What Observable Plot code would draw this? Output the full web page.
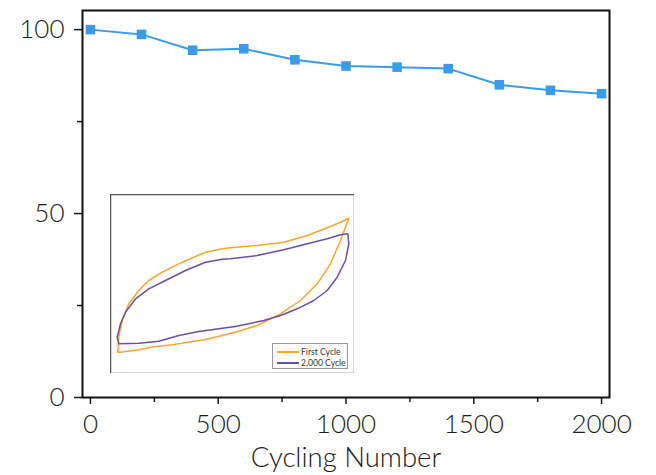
<!DOCTYPE html>
<html><head><meta charset="utf-8">
<script src="https://cdn.jsdelivr.net/npm/d3@7"></script>
<script src="https://cdn.jsdelivr.net/npm/@observablehq/plot@0.6"></script>
<style>
body{margin:0;background:#fff;}
#wrap{position:relative;width:656px;height:475px;overflow:hidden;}
#inset{position:absolute;left:110px;top:194px;}
#legend{position:absolute;left:272px;top:343px;width:76px;height:26px;border:1px solid #9a9a9a;background:#fff;
  font-family:Lato, "Open Sans", sans-serif;font-size:8.6px;color:#333;box-sizing:border-box;padding-top:2px;}
#legend .row{display:flex;align-items:center;height:11.5px;}
#legend .sw{display:inline-block;width:22px;height:1.6px;margin-left:4px;margin-right:2px;}
</style></head><body><div id="wrap"></div>
<script>
// Main series
const cycles = [0, 200, 400, 600, 800, 1000, 1200, 1400, 1600, 1800, 2000];
const retention = [100, 98.7, 94.4, 94.8, 91.8, 90.1, 89.8, 89.4, 85.0, 83.5, 82.6];
const majorXTicks = [0, 500, 1000, 1500, 2000];
const minorXTicks = [250, 750, 1250, 1750];
const majorYTicks = [0, 50, 100];
const minorYTicks = [25, 75];
const xLabel = "Cycling Number";

// Inset CV loops (arbitrary units)
const firstCycleX = [7.3, 28.3, 40, 61.7, 95, 125, 146.7, 170, 190, 206.7, 220, 230, 238.3,
  230, 216.7, 196.7, 173.3, 146.7, 120, 111.7, 95, 71.7, 51.7, 38.3, 28.3, 18.3, 11.7, 8.3, 7.3];
const firstCycleY = [21, 23.7, 26.3, 28.7, 34, 41.3, 48, 59.7, 73, 89.7, 109.7, 133, 155.3,
  151.3, 145.7, 138, 131.3, 128, 125.7, 124.7, 121.3, 111.3, 101.3, 93, 83, 69.7, 53, 36.3, 21];
const cycle2000X = [8.3, 28.3, 48.3, 68.3, 88.3, 108.3, 125, 153.3, 170, 186.7, 203.3, 216.7, 226.7, 235, 238.3, 237.3,
  230, 216.7, 196.7, 173.3, 146.7, 120, 111.7, 95, 75, 55, 38.3, 25, 15, 10, 6.7, 8.3];
const cycle2000Y = [29.7, 30.3, 32.3, 38, 42, 44.7, 47, 53, 58, 64.7, 73, 83, 96.3, 113, 129.7, 139.7,
  138.7, 134.7, 129.7, 123.7, 118, 114.7, 114.3, 111.3, 103, 93, 84.7, 74.7, 61.3, 49.7, 36.3, 29.7];
const legendLabels = ["First Cycle", "2,000 Cycle"];
const seriesColors = ["#f7a531", "#6a4ea6"];

const mainData = cycles.map((c, i) => ({c, r: retention[i]}));
const blue = "#3a9be8";
const font = "Lato, 'Open Sans', sans-serif";

const main = Plot.plot({
  width: 656, height: 475,
  marginLeft: 82, marginRight: 47, marginTop: 10, marginBottom: 78,
  style: {fontFamily: font, fontSize: "26px", fontWeight: 300, color: "#1a1a1a", background: "transparent", overflow: "visible"},
  x: {domain: [-31, 2031]},
  y: {domain: [0, 105.2]},
  marks: [
    Plot.axisX(minorXTicks, {tickSize: 5, text: null, strokeWidth: 1.5, label: null}),
    Plot.axisX(majorXTicks, {tickSize: 7, tickPadding: 10, strokeWidth: 1.5, label: null, tickFormat: d => String(d)}),
    Plot.axisX([], {tickSize: 0, label: xLabel, labelAnchor: "center", labelArrow: "none", labelOffset: 69, fontSize: 27.5}),
    Plot.axisY(minorYTicks, {tickSize: 5, text: null, strokeWidth: 1.5, label: null}),
    Plot.axisY(majorYTicks, {tickSize: 8, tickPadding: 10, strokeWidth: 1.5, label: null, tickFormat: d => String(d)}),
    Plot.frame({stroke: "#111", strokeWidth: 2}),
    Plot.line(mainData, {x: "c", y: "r", stroke: blue, strokeWidth: 2}),
    Plot.dot(mainData, {x: "c", y: "r", symbol: "square", fill: blue, r: 5.4})
  ]
});

const loopData = [
  ...firstCycleX.map((x, i) => ({x, y: firstCycleY[i], s: legendLabels[0]})),
  ...cycle2000X.map((x, i) => ({x, y: cycle2000Y[i], s: legendLabels[1]}))
];

const inset = Plot.plot({
  width: 244, height: 179, margin: 0,
  style: {background: "#fff"},
  x: {domain: [0, 244], axis: null},
  y: {domain: [0, 179], axis: null},
  color: {domain: legendLabels, range: seriesColors},
  marks: [
    Plot.line(loopData, {x: "x", y: "y", z: "s", stroke: "s", strokeWidth: 1.5, curve: "linear"}),
    Plot.frame({stroke: "#555", strokeWidth: 1.5})
  ]
});
inset.id = "inset";

const wrap = document.getElementById("wrap");
wrap.appendChild(main);
wrap.appendChild(inset);

const legend = document.createElement("div");
legend.id = "legend";
legendLabels.forEach((lab, i) => {
  const row = document.createElement("div");
  row.className = "row";
  const sw = document.createElement("span");
  sw.className = "sw";
  sw.style.background = seriesColors[i];
  row.appendChild(sw);
  row.appendChild(document.createTextNode(lab));
  legend.appendChild(row);
});
wrap.appendChild(legend);
</script></body></html>
